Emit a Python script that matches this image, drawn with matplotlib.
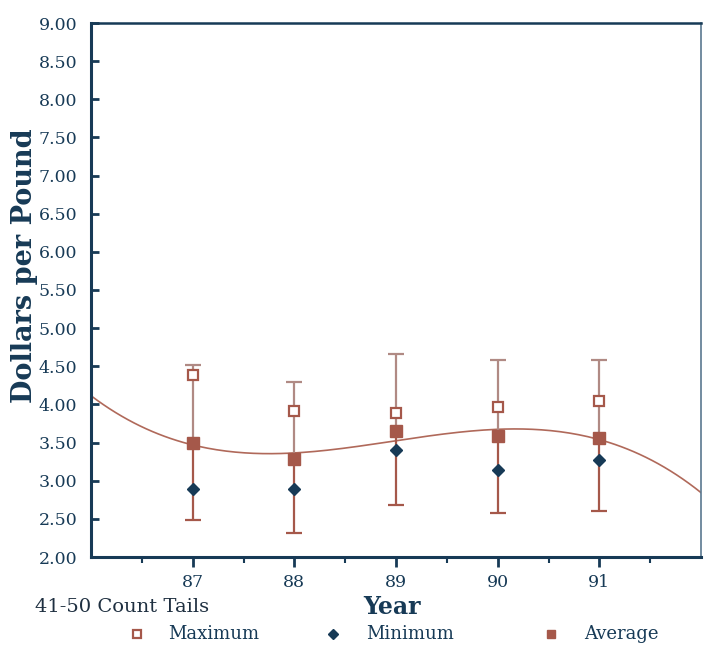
import numpy as np
import matplotlib
matplotlib.use('Agg')
import matplotlib.pyplot as plt
from matplotlib.lines import Line2D

# Price of 41-50 count tails by year, dollars per pound
years = [87, 88, 89, 90, 91]
maximum = [4.38, 3.91, 3.89, 3.97, 4.05]
minimum = [2.89, 2.89, 3.40, 3.14, 3.27]
average = [3.49, 3.28, 3.65, 3.59, 3.56]
range_top = [4.52, 4.29, 4.66, 4.58, 4.58]
range_bottom = [2.49, 2.31, 2.68, 2.58, 2.60]

BROWN = '#a5584a'
BROWN_LIGHT = '#b08a84'
NAVY = '#173a56'

plt.rcParams['font.family'] = 'DejaVu Serif'

fig = plt.figure(figsize=(7.04, 6.49), dpi=100)
ax = fig.add_axes([91 / 704, 1 - 557 / 649, 610 / 704, 534 / 649])

# cubic trend line through the yearly averages
coef = np.polyfit(years, average, 3)
xs = np.linspace(86, 92, 200)
ax.plot(xs, np.polyval(coef, xs), color='#b0695a', lw=1.2, zorder=2)

# high/low range bars: solid below the average, lighter above it
ax.vlines(years, range_bottom, average, color=BROWN, lw=1.6, zorder=3)
ax.vlines(years, average, range_top, color=BROWN_LIGHT, lw=1.6, zorder=3)
ax.plot(years, range_bottom, ls='none', marker='_', ms=11, mew=1.6,
        color=BROWN, zorder=3)
ax.plot(years, range_top, ls='none', marker='_', ms=11, mew=1.6,
        color=BROWN_LIGHT, zorder=3)

max_kw = dict(ls='none', marker='s', ms=7, mfc='white', mec=BROWN, mew=1.6)
min_kw = dict(ls='none', marker='D', ms=6.5, mfc=NAVY, mec=NAVY)
avg_kw = dict(ls='none', marker='s', ms=8, mfc=BROWN, mec=BROWN)
ax.plot(years, maximum, zorder=4, **max_kw)
ax.plot(years, minimum, zorder=4, **min_kw)
ax.plot(years, average, zorder=4, **avg_kw)

ax.set_xlim(86, 92)
ax.set_ylim(2.0, 9.0)
ax.set_yticks(np.arange(2.0, 9.01, 0.5))
ax.set_yticklabels([f'{v:.2f}' for v in np.arange(2.0, 9.01, 0.5)])
ax.set_xticks(years)
ax.set_xticklabels([str(y) for y in years])
ax.set_xticks(np.arange(86.5, 92, 1.0), minor=True)

ax.tick_params(axis='y', direction='in', length=6, width=2, color=NAVY,
               labelsize=12.5, labelcolor=NAVY, pad=10)
ax.tick_params(axis='x', which='major', direction='out', length=7, width=2,
               color=NAVY, labelsize=12.5, labelcolor=NAVY, pad=5)
ax.tick_params(axis='x', which='minor', direction='out', length=4, width=1.5,
               color=NAVY)

for side in ('left', 'bottom'):
    ax.spines[side].set_color(NAVY)
    ax.spines[side].set_linewidth(2.2)
ax.spines['top'].set_color(NAVY)
ax.spines['top'].set_linewidth(1.8)
ax.spines['right'].set_color('#5a7890')
ax.spines['right'].set_linewidth(1.2)

fig.text(25 / 704, 1 - 266 / 649, 'Dollars per Pound', rotation=90,
         ha='center', va='center', fontsize=19.5, fontweight='bold',
         color=NAVY)
fig.text(392 / 704, 1 - 607 / 649, 'Year', ha='center', va='center',
         fontsize=17, fontweight='bold', color=NAVY)
fig.text(35 / 704, 1 - 607 / 649, '41-50 Count Tails', ha='left',
         va='center', fontsize=14, color='#1e2f40')

# legend row along the bottom
legend_items = [
    (137, 168, 'Maximum', max_kw),
    (333, 366, 'Minimum', min_kw),
    (551, 584, 'Average', avg_kw),
]
ly = 1 - 634 / 649
for mx, tx, label, kw in legend_items:
    kw = dict(kw)
    kw['ms'] = kw['ms'] * 0.8
    fig.add_artist(Line2D([mx / 704], [ly], transform=fig.transFigure, **kw))
    fig.text(tx / 704, ly, label, ha='left', va='center', fontsize=13,
             color=NAVY)

fig.savefig('out.png', dpi=100)
